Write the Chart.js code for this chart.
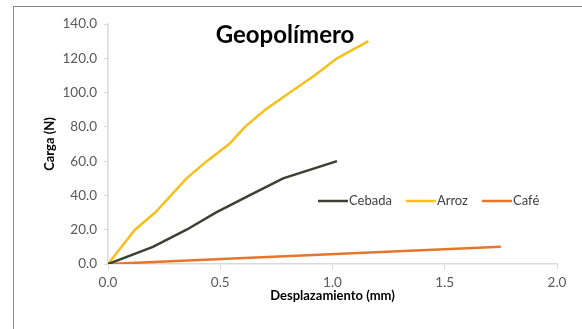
<!DOCTYPE html>
<html>
<head>
<meta charset="utf-8">
<script src="https://cdn.jsdelivr.net/npm/chart.js@4.4.1/dist/chart.umd.min.js"></script>
<style>
  html, body { margin: 0; padding: 0; background: #fff; }
  #wrap { width: 582px; height: 329px; }
</style>
</head>
<body>
<div id="wrap"><canvas id="myChart" width="582" height="329"></canvas></div>
<script>
var chartTitle = "Geopolímero";
var seriesNames = ["Cebada", "Arroz", "Café"];
var seriesColors = ["#3d3f31", "#f5c01a", "#e5762b"];

// desplazamiento (mm) / carga (N) for each mix
var cebadaX = [0, 0.20, 0.35, 0.48, 0.63, 0.78, 1.02];
var cebadaY = [0, 10, 20, 30, 40, 50, 60];
var arrozX = [0, 0.12, 0.21, 0.35, 0.44, 0.54, 0.61, 0.70, 0.81, 0.92, 1.02, 1.16];
var arrozY = [0, 20, 30, 50, 60, 70, 80, 90, 100, 110, 120, 130];
var cafeX = [0, 1.75];
var cafeY = [0, 10];

var xTicks = [0, 0.5, 1.0, 1.5, 2.0];
var yTicks = [0, 20, 40, 60, 80, 100, 120, 140];

function toPoints(xs, ys) {
    var pts = [];
    for (var i = 0; i < xs.length; i++) {
        pts.push({ x: xs[i], y: ys[i] });
    }
    return pts;
}

var tickFont = { family: "Lato", size: 13.5 };
var axisTitleFont = { family: "Lato", size: 13, weight: "bold" };

// white page, grey frame, title and legend inside the plot
var decorPlugin = {
    id: "decor",
    beforeDraw: function (chart) {
        var ctx = chart.ctx;
        ctx.save();
        ctx.fillStyle = "#ffffff";
        ctx.fillRect(0, 0, chart.width, chart.height);
        ctx.strokeStyle = "#8a8a8a";
        ctx.lineWidth = 1;
        ctx.strokeRect(13.5, 6.5, chart.width + 20, chart.height + 20);
        ctx.restore();
    },
    afterDraw: function (chart) {
        var ctx = chart.ctx;
        var area = chart.chartArea;
        ctx.save();
        ctx.fillStyle = "#000000";
        ctx.font = "bold 24px Lato";
        ctx.textAlign = "center";
        ctx.textBaseline = "middle";
        ctx.fillText(chartTitle, area.left + 177, area.top + 11);

        ctx.font = "13px Lato";
        ctx.textAlign = "left";
        var x = area.left + 210;
        var y = area.top + 177;
        for (var i = 0; i < chart.data.datasets.length; i++) {
            var ds = chart.data.datasets[i];
            ctx.strokeStyle = ds.borderColor;
            ctx.lineWidth = 2.5;
            ctx.beginPath();
            ctx.moveTo(x, y);
            ctx.lineTo(x + 30, y);
            ctx.stroke();
            ctx.fillStyle = "#404040";
            ctx.fillText(ds.label, x + 31, y);
            x += 31 + ctx.measureText(ds.label).width + 14;
        }
        ctx.restore();
    }
};

var ctx = document.getElementById("myChart").getContext("2d");
var myChart = new Chart(ctx, {
    type: "line",
    data: {
        datasets: [
            { label: seriesNames[0], data: toPoints(cebadaX, cebadaY), borderColor: seriesColors[0] },
            { label: seriesNames[1], data: toPoints(arrozX, arrozY), borderColor: seriesColors[1] },
            { label: seriesNames[2], data: toPoints(cafeX, cafeY), borderColor: seriesColors[2] }
        ]
    },
    options: {
        responsive: false,
        animation: false,
        devicePixelRatio: 1,
        layout: { padding: { top: 24, right: 25, left: 0, bottom: 0 } },
        elements: {
            line: { borderWidth: 2.5, tension: 0, fill: false },
            point: { radius: 0, hoverRadius: 0 }
        },
        plugins: {
            legend: { display: false },
            title: { display: false },
            tooltip: { enabled: false }
        },
        scales: {
            x: {
                type: "linear",
                min: xTicks[0],
                max: xTicks[xTicks.length - 1],
                afterBuildTicks: function (scale) {
                    scale.ticks = xTicks.map(function (v) { return { value: v }; });
                },
                afterFit: function (scale) { scale.height = 65; },
                grid: { drawOnChartArea: false, drawTicks: true, tickLength: 5, tickColor: "#d9d9d9" },
                border: { color: "#d9d9d9", width: 1.5 },
                ticks: {
                    padding: 6,
                    color: "#595959",
                    font: tickFont,
                    maxRotation: 0,
                    callback: function (v) { return Number(v).toFixed(1); }
                },
                title: {
                    display: true,
                    text: "Desplazamiento (mm)",
                    color: "#000000",
                    font: axisTitleFont,
                    padding: { top: 0, bottom: 25 }
                }
            },
            y: {
                type: "linear",
                min: yTicks[0],
                max: yTicks[yTicks.length - 1],
                afterBuildTicks: function (scale) {
                    scale.ticks = yTicks.map(function (v) { return { value: v }; });
                },
                afterFit: function (scale) { scale.width = 108; },
                grid: { drawOnChartArea: false, drawTicks: true, tickLength: 4, tickColor: "#d9d9d9" },
                border: { color: "#d9d9d9", width: 1.5 },
                ticks: {
                    padding: 7,
                    color: "#595959",
                    font: tickFont,
                    callback: function (v) { return Number(v).toFixed(1); }
                },
                title: {
                    display: true,
                    text: "Carga (N)",
                    color: "#000000",
                    font: axisTitleFont,
                    padding: { top: 42, bottom: 0 }
                }
            }
        }
    },
    plugins: [decorPlugin]
});
</script>
</body>
</html>
